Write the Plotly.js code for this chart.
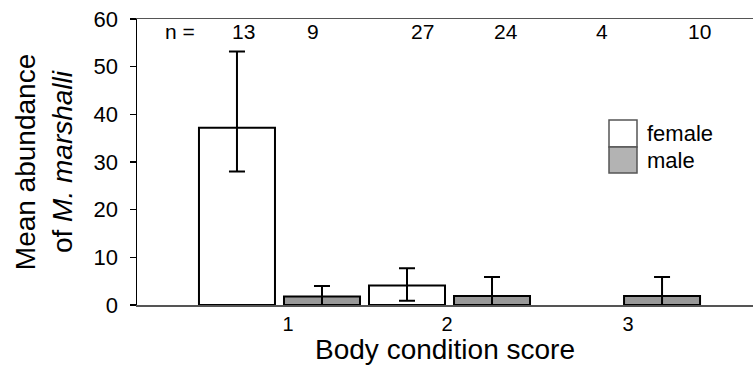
<!DOCTYPE html>
<html>
<head>
<meta charset="utf-8">
<script src="https://cdn.plot.ly/plotly-3.0.1.min.js"></script>
<style>
  html, body { margin: 0; padding: 0; background: #fff; }
  #chart { width: 753px; height: 365px; }
</style>
</head>
<body>
<div id="chart"></div>
<script>
// ---- data ----
const scores = [1, 2, 3];
const tickLabels = ['1', '2', '3'];
const femaleMean = [37.2, 4.1, null];
const femaleUpper = [16.0, 3.6, null];
const femaleLower = [9.2, 3.2, null];
const maleMean = [1.8, 1.9, 1.9];
const maleUpper = [2.2, 4.0, 4.0];
const maleLower = [1.8, 1.9, 1.9];
const nFemale = [13, 27, 4];
const nMale = [9, 24, 10];
const seriesNames = ['female', 'male'];

const font = 'Liberation Sans, Arial, sans-serif';

const traces = [
  {
    type: 'bar', name: seriesNames[0], x: scores, y: femaleMean,
    marker: { color: '#ffffff', line: { color: '#000000', width: 2 } },
    error_y: { type: 'data', symmetric: false, array: femaleUpper, arrayminus: femaleLower,
               color: '#000000', thickness: 2, width: 8 },
    showlegend: false
  },
  {
    type: 'bar', name: seriesNames[1], x: scores, y: maleMean,
    marker: { color: '#999999', line: { color: '#000000', width: 2 } },
    error_y: { type: 'data', symmetric: false, array: maleUpper, arrayminus: maleLower,
               color: '#000000', thickness: 2, width: 8 },
    showlegend: false
  }
];

// n labels positions (pixel x) — layout only
const nLabelX = [243, 313, 422, 506, 602, 699];
const nTexts = [nFemale[0], nMale[0], nFemale[1], nMale[1], nFemale[2], nMale[2]];
const px = p => (p - 137) / 616;
const py = p => 1 - (p - 19) / 286;
const annotations = [
  { xref: 'paper', yref: 'paper', x: px(180), y: py(32),
    text: 'n =', showarrow: false, xanchor: 'center', yanchor: 'middle',
    font: { family: font, size: 21, color: '#000' } }
];
nTexts.forEach((v, i) => {
  annotations.push({
    xref: 'paper', yref: 'paper', x: px(nLabelX[i]), y: py(32),
    text: String(v), showarrow: false, xanchor: 'center', yanchor: 'middle',
    font: { family: font, size: 21, color: '#000' }
  });
});
// custom legend
annotations.push(
  { xref: 'paper', yref: 'paper', x: px(645), y: py(133), text: seriesNames[0],
    showarrow: false, xanchor: 'left', yanchor: 'middle', font: { family: font, size: 22, color: '#000' } },
  { xref: 'paper', yref: 'paper', x: px(645), y: py(160), text: seriesNames[1],
    showarrow: false, xanchor: 'left', yanchor: 'middle', font: { family: font, size: 22, color: '#000' } }
);
const shapes = [
  { type: 'rect', xref: 'paper', yref: 'paper', x0: px(609), x1: px(637), y0: py(147), y1: py(120),
    fillcolor: '#ffffff', line: { color: '#555555', width: 1.5 } },
  { type: 'rect', xref: 'paper', yref: 'paper', x0: px(609), x1: px(637), y0: py(173), y1: py(147),
    fillcolor: '#b3b3b3', line: { color: '#555555', width: 1.5 } }
];

const layout = {
  width: 753, height: 365,
  margin: { l: 137, r: 0, t: 19, b: 60, pad: 0 },
  paper_bgcolor: '#ffffff', plot_bgcolor: '#ffffff',
  barmode: 'group', bargap: 0, bargroupgap: 0.106,
  showlegend: false,
  font: { family: font, color: '#000' },
  xaxis: {
    type: 'linear', range: [0.162, 3.785],
    tickvals: [1.05, 1.985, 3.05], ticktext: tickLabels,
    ticks: '', showgrid: false, zeroline: false,
    showline: true, mirror: true, linecolor: '#555555', linewidth: 1.5,
    tickfont: { family: font, size: 20, color: '#000' },
    title: { text: 'Body condition score', font: { family: font, size: 28, color: '#000' }, standoff: 3 }
  },
  yaxis: {
    range: [0, 60], tickvals: [0, 10, 20, 30, 40, 50, 60],
    ticks: 'outside', ticklen: 6, tickwidth: 1.5, tickcolor: '#000',
    ticklabelstandoff: 7,
    showgrid: false, zeroline: false,
    showline: true, linecolor: '#000', linewidth: 1.5,
    tickfont: { family: font, size: 22, color: '#000' },
    title: { text: 'Mean abundance<br>of <i>M. marshalli</i>', font: { family: font, size: 28, color: '#000' }, standoff: 13 }
  },
  annotations: annotations,
  shapes: shapes
};

Plotly.newPlot('chart', traces, layout, { staticPlot: true, displayModeBar: false });
</script>
</body>
</html>
